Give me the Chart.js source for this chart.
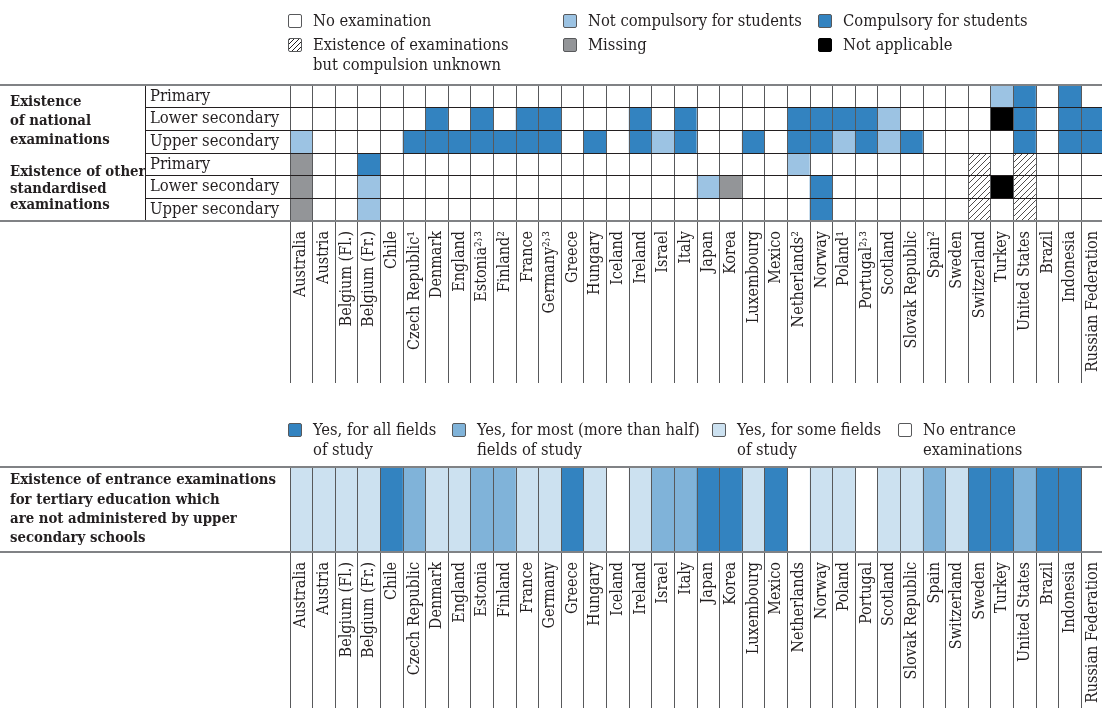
<!DOCTYPE html>
<html>
<head>
<meta charset="utf-8">
<script src="https://cdn.jsdelivr.net/npm/chart.js@4.4.1/dist/chart.umd.min.js"></script>
<style>
  body { margin: 0; width: 1102px; height: 708px; overflow: hidden; background: #fff; position: relative;
         font-family: "DejaVu Serif Condensed", "DejaVu Serif", serif; color: #231f20; }
  canvas { position: absolute; left: 0; }
  .lg { position: absolute; font-size: 16.4px; line-height: 20px; white-space: nowrap; }
  .lg i { position: absolute; left: 0; top: 3px; width: 14px; height: 14px; border: 1px solid #58595b; border-radius: 2px; box-sizing: border-box; }
  .lg span { display: block; padding-left: 25px; }
  .grp { position: absolute; left: 10px; font-weight: bold; font-size: 14.8px; white-space: nowrap; }
</style>
</head>
<body>
<canvas id="c1" width="1104" height="390" style="top:0"></canvas>
<canvas id="c2" width="1104" height="318" style="top:390px"></canvas>

<div class="lg" style="left:288px;top:11px"><i style="background:#fff"></i><span>No examination</span></div>
<div class="lg" style="left:288px;top:35px"><i style="background:repeating-linear-gradient(-45deg,#fff 0 2.6px,#231f20 2.6px 3.4px)"></i><span>Existence of examinations<br>but compulsion unknown</span></div>
<div class="lg" style="left:563px;top:11px"><i style="background:#9cc3e3"></i><span>Not compulsory for students</span></div>
<div class="lg" style="left:563px;top:35px"><i style="background:#939598"></i><span>Missing</span></div>
<div class="lg" style="left:818px;top:11px"><i style="background:#3383c0"></i><span>Compulsory for students</span></div>
<div class="lg" style="left:818px;top:35px"><i style="background:#000;border-color:#000"></i><span>Not applicable</span></div>

<div class="grp" style="top:91px;line-height:19px">Existence<br>of national<br>examinations</div>
<div class="grp" style="top:163px;line-height:16.5px">Existence of other<br>standardised<br>examinations</div>

<div class="lg" style="left:288px;top:420px"><i style="background:#3383c0"></i><span>Yes, for all fields<br>of study</span></div>
<div class="lg" style="left:452px;top:420px"><i style="background:#80b3d9"></i><span>Yes, for most (more than half)<br>fields of study</span></div>
<div class="lg" style="left:712px;top:420px"><i style="background:#cce1f0"></i><span>Yes, for some fields<br>of study</span></div>
<div class="lg" style="left:898px;top:420px"><i style="background:#fff"></i><span>No entrance<br>examinations</span></div>

<script>
const countries = ['Australia', 'Austria', 'Belgium (Fl.)', 'Belgium (Fr.)', 'Chile', 'Czech Republic¹',
  'Denmark', 'England', 'Estonia²˒³', 'Finland²', 'France', 'Germany²˒³', 'Greece', 'Hungary', 'Iceland',
  'Ireland', 'Israel', 'Italy', 'Japan', 'Korea', 'Luxembourg', 'Mexico', 'Netherlands²', 'Norway',
  'Poland¹', 'Portugal²˒³', 'Scotland', 'Slovak Republic', 'Spain²', 'Sweden', 'Switzerland', 'Turkey',
  'United States', 'Brazil', 'Indonesia', 'Russian Federation'];

const countriesEntrance = ['Australia', 'Austria', 'Belgium (Fl.)', 'Belgium (Fr.)', 'Chile', 'Czech Republic',
  'Denmark', 'England', 'Estonia', 'Finland', 'France', 'Germany', 'Greece', 'Hungary', 'Iceland',
  'Ireland', 'Israel', 'Italy', 'Japan', 'Korea', 'Luxembourg', 'Mexico', 'Netherlands', 'Norway',
  'Poland', 'Portugal', 'Scotland', 'Slovak Republic', 'Spain', 'Switzerland', 'Sweden', 'Turkey',
  'United States', 'Brazil', 'Indonesia', 'Russian Federation'];

const rowLabels = ['Primary', 'Lower secondary', 'Upper secondary', 'Primary', 'Lower secondary', 'Upper secondary'];

// 0 no examination, 1 not compulsory, 2 compulsory, 3 missing, 4 not applicable, 5 compulsion unknown
const nationalPrimary = [0,0,0,0,0,0,0,0,0,0, 0,0,0,0,0,0,0,0,0,0, 0,0,0,0,0,0,0,0,0,0, 0,1,2,0,2,0];
const nationalLower   = [0,0,0,0,0,0,2,0,2,0, 2,2,0,0,0,2,0,2,0,0, 0,0,2,2,2,2,1,0,0,0, 0,4,2,0,2,2];
const nationalUpper   = [1,0,0,0,0,2,2,2,2,2, 2,2,0,2,0,2,1,2,0,0, 2,0,2,2,1,2,1,2,0,0, 0,0,2,0,2,2];
const otherPrimary    = [3,0,0,2,0,0,0,0,0,0, 0,0,0,0,0,0,0,0,0,0, 0,0,1,0,0,0,0,0,0,0, 5,0,5,0,0,0];
const otherLower      = [3,0,0,1,0,0,0,0,0,0, 0,0,0,0,0,0,0,0,1,3, 0,0,0,2,0,0,0,0,0,0, 5,4,5,0,0,0];
const otherUpper      = [3,0,0,1,0,0,0,0,0,0, 0,0,0,0,0,0,0,0,0,0, 0,0,0,2,0,0,0,0,0,0, 5,0,5,0,0,0];

// 0 none, 1 some fields, 2 most fields, 3 all fields
const entrance = [1,1,1,1,3,2,1,1,2,2, 1,1,3,1,0,1,2,2,3,3, 1,3,0,1,1,0,1,1,2,1, 3,3,2,3,3,0];

const entranceLabel = ['Existence of entrance examinations', 'for tertiary education which',
  'are not administered by upper', 'secondary schools'];

Chart.defaults.font.family = '"DejaVu Serif Condensed", "DejaVu Serif", serif';
Chart.defaults.color = '#231f20';

function hatch() {
  const c = document.createElement('canvas');
  c.width = 6; c.height = 6;
  const g = c.getContext('2d');
  g.fillStyle = '#fff';
  g.fillRect(0, 0, 6, 6);
  g.strokeStyle = '#231f20';
  g.lineWidth = 0.8;
  g.beginPath();
  g.moveTo(-1, 7); g.lineTo(7, -1);
  g.moveTo(-1, 1); g.lineTo(1, -1);
  g.moveTo(5, 7); g.lineTo(7, 5);
  g.stroke();
  return g.createPattern(c, 'repeat');
}

const topFill = ['#ffffff', '#9cc3e3', '#3383c0', '#939598', '#000000', hatch()];
const entranceFill = ['#ffffff', '#cce1f0', '#80b3d9', '#3383c0'];

// gray rules across the full width plus the row-label box edge
const frame = {
  id: 'frame',
  afterDraw(chart, args, opts) {
    const { ctx, chartArea: a } = chart;
    ctx.save();
    if (opts.boxX) {
      ctx.strokeStyle = '#231f20';
      ctx.lineWidth = 1;
      ctx.beginPath();
      ctx.moveTo(opts.boxX + 0.5, a.top);
      ctx.lineTo(opts.boxX + 0.5, a.bottom);
      ctx.stroke();
    }
    ctx.strokeStyle = '#808285';
    ctx.lineWidth = 2;
    [a.top, a.bottom].forEach(y => {
      ctx.beginPath();
      ctx.moveTo(0, y);
      ctx.lineTo(chart.width, y);
      ctx.stroke();
    });
    ctx.restore();
  }
};

const topRows = [nationalPrimary, nationalLower, nationalUpper, otherPrimary, otherLower, otherUpper];

new Chart(document.getElementById('c1'), {
  type: 'bar',
  data: {
    labels: countries,
    datasets: topRows.map((vals, r) => ({
      data: vals.map(() => [r, r + 1]),
      backgroundColor: vals.map(v => topFill[v]),
      borderWidth: 0,
      grouped: false,
      categoryPercentage: 1,
      barPercentage: 1
    }))
  },
  options: {
    responsive: false,
    animation: false,
    layout: { padding: { left: 150, top: 85, right: 0 } },
    plugins: { legend: { display: false }, tooltip: { enabled: false }, frame: { boxX: 145 } },
    scales: {
      x: {
        grid: { offset: true, color: '#58595b', tickLength: 162, z: 1 },
        border: { display: false },
        ticks: { autoSkip: false, minRotation: 90, maxRotation: 90, padding: -152, font: { size: 16 } },
        afterFit: s => { s.height = 169; }
      },
      y: {
        min: 0, max: 6, reverse: true,
        grid: { color: '#231f20', tickLength: 145, z: 1 },
        border: { display: false },
        ticks: { stepSize: 1, autoSkip: false, crossAlign: 'far', labelOffset: 11.3, font: { size: 16.5 },
                 callback: v => rowLabels[v] ?? '' },
        afterFit: s => { s.width = 140; }
      }
    }
  },
  plugins: [frame]
});

new Chart(document.getElementById('c2'), {
  type: 'bar',
  data: {
    labels: countriesEntrance,
    datasets: [{
      data: entrance.map(() => [0, 1]),
      backgroundColor: entrance.map(v => entranceFill[v]),
      borderWidth: 0,
      categoryPercentage: 1,
      barPercentage: 1
    }]
  },
  options: {
    responsive: false,
    animation: false,
    layout: { padding: { left: 10, top: 77, right: 0 } },
    plugins: { legend: { display: false }, tooltip: { enabled: false }, frame: {} },
    scales: {
      x: {
        grid: { offset: true, color: '#58595b', tickLength: 160, z: 1 },
        border: { display: false },
        ticks: { autoSkip: false, minRotation: 90, maxRotation: 90, padding: -150, font: { size: 16 } },
        afterFit: s => { s.height = 156; }
      },
      y: {
        min: 0, max: 1, reverse: true,
        grid: { display: false },
        border: { display: false },
        ticks: { stepSize: 1, crossAlign: 'far', labelOffset: 42.5,
                 font: { size: 14.8, weight: 'bold', lineHeight: 1.3 },
                 callback: v => v === 0 ? entranceLabel : '' },
        afterFit: s => { s.width = 280; }
      }
    }
  },
  plugins: [frame]
});
</script>
</body>
</html>
